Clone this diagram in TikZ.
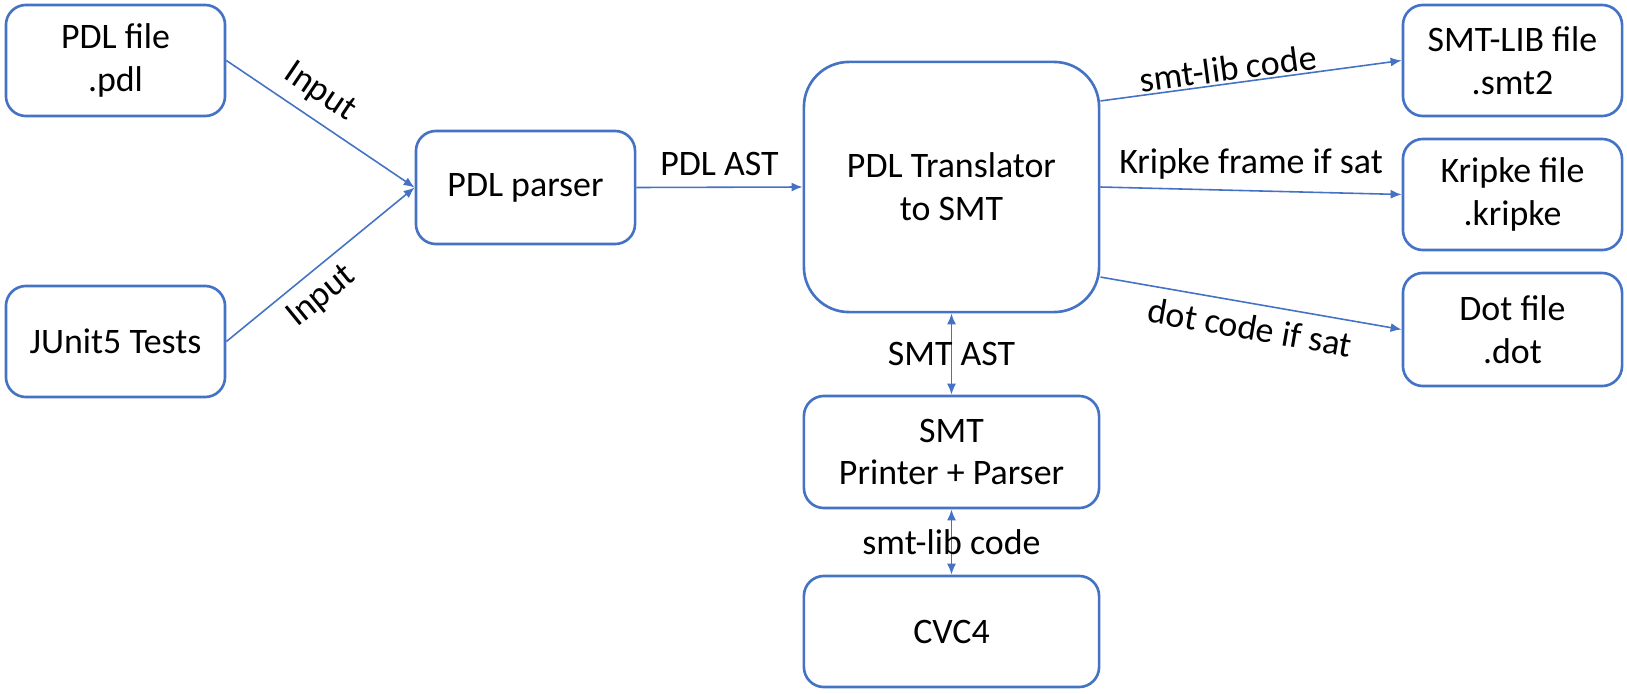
\documentclass[tikz,border=0pt]{standalone}
\usepackage{fontspec}
\setmainfont{Carlito}
\usetikzlibrary{arrows.meta, positioning}

\begin{document}
\begin{tikzpicture}[x=0.01cm, y=-0.01cm, >={Latex[length=1.1mm, width=0.9mm]},
    font=\fontsize{10.2}{12.2}\selectfont,
    box/.style={draw=boxblue, line width=0.75pt, rounded corners=0.2cm, fill=white,
        minimum width=2.19cm, minimum height=1.11cm, inner sep=0pt, align=center},
    bigbox/.style={box, rounded corners=0.45cm, minimum width=2.95cm, minimum height=2.5cm},
    link/.style={->, draw=boxblue, line width=0.45pt},
    tag/.style={inner sep=3pt}]

    % --- DEFINITIONS ---
    \definecolor{boxblue}{RGB}{68, 114, 196} % Office blue

    \useasboundingbox (0,0) rectangle (1627,694);

    % --- INPUTS ---
    \node[box] (pdlfile) at (115.5, 60.5) {PDL file\\.pdl};
    \node[box] (junit) at (115.5, 341.5) {JUnit5 Tests};

    % --- PIPELINE ---
    \node[box, minimum height=1.13cm] (parser) at (525.5, 187.5) {PDL parser};
    \node[bigbox] (translator) at (951.5, 187) {PDL Translator\\to SMT};
    \node[box, minimum width=2.95cm, minimum height=1.12cm] (printer) at (951.5, 452) {SMT\\Printer + Parser};
    \node[box, minimum width=2.95cm] (cvc) at (951.5, 631.5) {CVC4};

    % --- OUTPUTS ---
    \node[box] (smtfile) at (1512.5, 60.5) {SMT-LIB file\\.smt2};
    \node[box] (kripke) at (1512.5, 194.5) {Kripke file\\.kripke};
    \node[box, minimum height=1.13cm] (dotfile) at (1512.5, 329.5) {Dot file\\.dot};

    % Connectors
    \draw[link] (pdlfile.east) -- (parser.west)
        node[pos=0.42, sloped, above, tag] {Input};
    \draw[link] (junit.east) -- (parser.west)
        node[pos=0.42, sloped, below, tag] {Input};
    \draw[link] (parser.east) -- (translator.west)
        node[midway, above, tag] {PDL AST};

    \draw[link] ([yshift=0.86cm]translator.east) -- (smtfile.west)
        node[pos=0.43, sloped, above, inner sep=0.5pt] {smt-lib code};
    \draw[link] (translator.east) -- (kripke.west)
        node[midway, above, tag] {Kripke frame if sat};
    \draw[link] ([yshift=-0.9cm]translator.east) -- (dotfile.west)
        node[pos=0.51, sloped, below, tag] {dot code if sat};

    \draw[link, <->] (translator.south) -- (printer.north)
        node[midway] {SMT AST};
    \draw[link, <->] (printer.south) -- (cvc.north)
        node[midway] {smt-lib code};
\end{tikzpicture}
\end{document}
